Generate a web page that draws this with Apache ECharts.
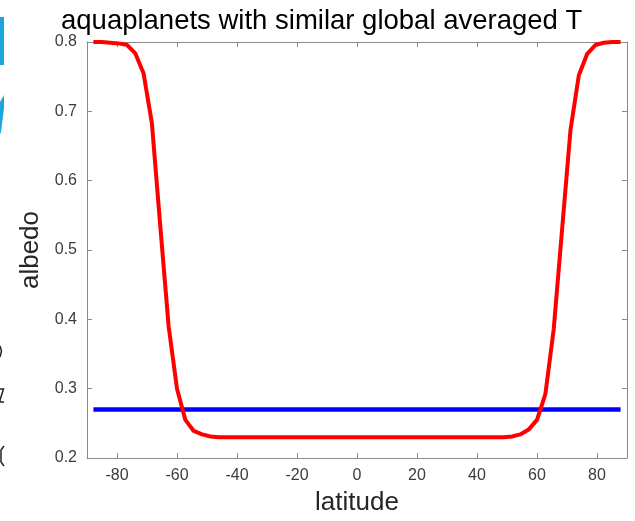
<!DOCTYPE html>
<html>
<head>
<meta charset="utf-8">
<script src="https://cdn.jsdelivr.net/npm/echarts@6/dist/echarts.min.js"></script>
<style>
html,body{margin:0;padding:0;background:#fff;}
#chart{width:635px;height:521px;}
</style>
</head>
<body>
<div id="chart"></div>
<script>
// Latitudes of the model grid (degrees) and the albedo profile
const latitudes = [
  -87.86, -85.10, -82.31, -79.53, -76.74, -73.95, -71.16, -68.37,
  -65.58, -62.79, -60.00, -57.21, -54.42, -51.63, -48.84, -46.05,
  -43.25, -40.46, -37.67, -34.88, -32.09, -29.30, -26.51, -23.72,
  -20.93, -18.14, -15.35, -12.56, -9.77, -6.98, -4.19, -1.40,
  1.40, 4.19, 6.98, 9.77, 12.56, 15.35, 18.14, 20.93,
  23.72, 26.51, 29.30, 32.09, 34.88, 37.67, 40.46, 43.25,
  46.05, 48.84, 51.63, 54.42, 57.21, 60.00, 62.79, 65.58,
  68.37, 71.16, 73.95, 76.74, 79.53, 82.31, 85.10, 87.86
];
const albedoVarying = [
  0.800, 0.800, 0.799, 0.798, 0.796, 0.784, 0.755, 0.683,
  0.535, 0.390, 0.300, 0.255, 0.239, 0.234, 0.231, 0.230,
  0.230, 0.230, 0.230, 0.230, 0.230, 0.230, 0.230, 0.230,
  0.230, 0.230, 0.230, 0.230, 0.230, 0.230, 0.230, 0.230,
  0.230, 0.230, 0.230, 0.230, 0.230, 0.230, 0.230, 0.230,
  0.230, 0.230, 0.230, 0.230, 0.230, 0.230, 0.230, 0.230,
  0.230, 0.230, 0.231, 0.234, 0.241, 0.255, 0.292, 0.386,
  0.530, 0.673, 0.752, 0.783, 0.796, 0.799, 0.800, 0.800
];
const uniformLat = [-87.86, 87.86];
const albedoUniform = [0.27, 0.27];
const xTicks = [-80, -60, -40, -20, 0, 20, 40, 60, 80];
const yTicks = [0.2, 0.3, 0.4, 0.5, 0.6, 0.7, 0.8];
const titleText = 'aquaplanets with similar global averaged T';
const xName = 'latitude';
const yName = 'albedo';

const FONT = '"Liberation Sans", Arial, sans-serif';
const AXIS_COLOR = '#8a8a8a';
const LABEL_COLOR = '#3c3c3c';

function xAxisCfg(pos, showLabel) {
  return {
    type: 'value', position: pos, min: -90, max: 90,
    name: showLabel ? xName : '', nameLocation: 'middle', nameGap: 32,
    nameTextStyle: { fontFamily: FONT, fontSize: 26, color: '#262626' },
    axisLine: { show: true, onZero: false, lineStyle: { color: AXIS_COLOR, width: 1 } },
    axisTick: { show: true, inside: true, length: 5, customValues: xTicks, lineStyle: { color: AXIS_COLOR } },
    axisLabel: { show: showLabel, customValues: xTicks, margin: 10, fontFamily: FONT, fontSize: 16, color: LABEL_COLOR },
    splitLine: { show: false }
  };
}
function yAxisCfg(pos, showLabel) {
  return {
    type: 'value', position: pos, min: 0.2, max: 0.8,
    name: showLabel ? yName : '', nameLocation: 'middle', nameGap: 41,
    nameTextStyle: { fontFamily: FONT, fontSize: 26, color: '#262626' },
    axisLine: { show: true, onZero: false, lineStyle: { color: AXIS_COLOR, width: 1 } },
    axisTick: { show: true, inside: true, length: 5, customValues: yTicks, lineStyle: { color: AXIS_COLOR } },
    axisLabel: { show: showLabel, customValues: yTicks, margin: 10, fontFamily: FONT, fontSize: 16, color: LABEL_COLOR,
      formatter: v => v.toFixed(1) },
    splitLine: { show: false }
  };
}

const chart = echarts.init(document.getElementById('chart'), null, { renderer: 'canvas' });
chart.setOption({
  animation: false,
  backgroundColor: '#ffffff',
  title: {
    text: titleText, left: 56, top: 2,
    textStyle: { fontFamily: FONT, fontSize: 27.5, fontWeight: 'normal', color: '#000' }
  },
  grid: { left: 87, right: 8, top: 42, bottom: 62, containLabel: false },
  xAxis: [xAxisCfg('bottom', true), xAxisCfg('top', false)],
  yAxis: [yAxisCfg('left', true), yAxisCfg('right', false)],
  series: [
    {
      name: 'uniform', type: 'line', xAxisIndex: 0, yAxisIndex: 0,
      data: uniformLat.map((x, i) => [x, albedoUniform[i]]),
      showSymbol: false, lineStyle: { color: '#0000ff', width: 4.5 }, z: 2
    },
    {
      name: 'varying', type: 'line', xAxisIndex: 0, yAxisIndex: 0,
      data: latitudes.map((x, i) => [x, albedoVarying[i]]),
      showSymbol: false, lineStyle: { color: '#ff0000', width: 4 }, z: 3
    }
  ],
  graphic: [
    { type: 'rect', shape: { x: 0, y: 17, width: 4, height: 48 }, style: { fill: '#1ba5e0' } },
    { type: 'polygon', shape: { points: [[0, 102], [4, 95], [4, 108], [1, 132], [0, 134]] }, style: { fill: '#1ba5e0' } },
    { type: 'polyline', shape: { points: [[0, 346], [1.5, 351], [0, 357]] }, style: { stroke: '#222', lineWidth: 1.5, fill: null } },
    { type: 'polyline', shape: { points: [[0, 389], [3.5, 389], [0, 400], [0, 402], [4, 402]] }, style: { stroke: '#222', lineWidth: 1.5, fill: null } },
    { type: 'polyline', shape: { points: [[4, 446], [1, 450], [1, 462], [4, 466]] }, style: { stroke: '#222', lineWidth: 1.5, fill: null } }
  ]
});
</script>
</body>
</html>
